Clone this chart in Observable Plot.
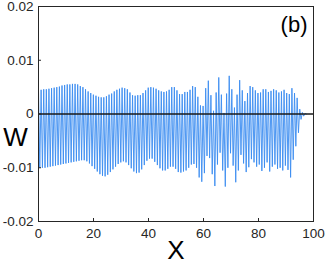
<!DOCTYPE html>
<html><head><meta charset="utf-8">
<script src="https://cdn.jsdelivr.net/npm/d3@7"></script>
<script src="https://cdn.jsdelivr.net/npm/@observablehq/plot@0.6"></script>
<style>body{margin:0;background:#fff} svg{display:block}</style>
</head><body><div id="chart"></div>
<script>
// oscillation period along X (one crest + one trough per period)
const period = 0.95;
// crest values of W (units of 1e-3), one per period
const tops = [
  4.5, 4.5, 4.6, 4.6, 4.7, 4.8, 4.9, 5.0, 5.1, 5.3,
  5.4, 5.5, 5.5, 5.6, 5.6, 5.5, 5.2, 5.0, 4.6, 4.2,
  3.9, 3.6, 3.4, 3.2, 3.1, 3.1, 3.3, 3.6, 3.8, 4.2,
  4.5, 4.7, 4.9, 4.8, 4.6, 4.0, 3.5, 3.4, 3.5, 3.5,
  3.9, 4.4, 4.9, 5.0, 4.9, 4.7, 4.4, 4.2, 4.1, 4.2,
  4.5, 5.0, 5.0, 4.4, 3.7, 3.7, 4.1, 4.1, 4.5, 5.2,
  5.0, 3.2, 1.6, 1.5, 4.8, 6.2, 3.5, 0.6, 4.0, 6.8,
  3.6, 0.2, 3.8, 7.1, 4.6, 1.2, 3.6, 6.3, 4.4, 2.4,
  3.9, 5.2, 5.0, 4.4, 3.9, 4.0, 4.6, 4.6, 4.1, 4.3,
  4.6, 4.4, 4.0, 4.2, 4.5, 3.9, 3.7, 4.8, 3.9, 3.0,
  0.9, 0.3, 0.1
];
// trough values of W (units of 1e-3), one per period
const bottoms = [
  -10.0, -10.0, -10.0, -9.9, -9.8, -9.7, -9.6, -9.5, -9.4, -9.3,
  -9.2, -9.1, -9.0, -8.9, -8.8, -8.7, -8.6, -8.6, -8.8, -9.2,
  -9.7, -10.2, -10.7, -11.2, -11.5, -11.6, -11.3, -10.8, -10.3, -9.8,
  -9.3, -9.0, -8.8, -9.0, -9.5, -10.1, -10.7, -11.0, -10.9, -10.3,
  -9.5, -8.7, -8.3, -8.3, -8.9, -9.5, -10.1, -10.5, -10.5, -10.2,
  -9.8, -9.8, -10.2, -10.8, -10.9, -10.7, -10.5, -10.0, -9.4, -9.3,
  -10.0, -11.8, -12.6, -11.0, -7.8, -8.2, -11.2, -13.4, -9.4, -7.2,
  -10.5, -13.5, -10.0, -7.3, -9.6, -12.7, -10.5, -7.6, -9.2, -10.8,
  -9.9, -8.4, -9.0, -9.8, -9.4, -10.6, -10.0, -9.0, -10.7, -9.8,
  -9.4, -10.2, -10.0, -10.5, -9.6, -10.4, -11.8, -8.5, -6.0, -3.5,
  -1.0, -0.4, 0.0
];
const unit = 1e-3;
const xTicks = [0, 20, 40, 60, 80, 100];
const yTicks = [-0.02, -0.01, 0, 0.01, 0.02];
const xLabel = "X";
const yLabel = "W";
const panelLabel = "(b)";

const points = [];
tops.forEach((t, i) => {
  points.push({x: i * period, y: t * unit});
  points.push({x: i * period + period / 2, y: bottoms[i] * unit});
});

const fmt = d => (Math.abs(d) < 1e-12 ? "0" : String(+d.toFixed(2)));

const chart = Plot.plot({
  width: 327,
  height: 267,
  marginLeft: 38,
  marginRight: 14,
  marginTop: 6,
  marginBottom: 46,
  style: {fontFamily: "Liberation Sans, Arial, sans-serif", background: "#fff"},
  x: {domain: [0, 100]},
  y: {domain: [-0.02, 0.02]},
  marks: [
    Plot.line(points, {x: "x", y: "y", stroke: "#3b8cf0", strokeWidth: 0.9}),
    Plot.ruleY([0], {stroke: "#1a1a1a", strokeWidth: 1.5}),
    Plot.frame({stroke: "#262626", strokeWidth: 1}),
    Plot.axisY({ticks: yTicks, tickFormat: fmt, tickSize: -3, tickPadding: 8, fontSize: 13.5, color: "#262626", label: null}),
    Plot.axisX({ticks: xTicks, tickFormat: fmt, tickSize: -3, tickPadding: 10, fontSize: 13.5, color: "#262626", label: null}),
    Plot.text([yLabel], {frameAnchor: "left", textAnchor: "middle", dx: -23, dy: 24, fontSize: 26, fill: "#000"}),
    Plot.text([xLabel], {frameAnchor: "bottom", dy: 37, fontSize: 26, fill: "#000"}),
    Plot.text([panelLabel], {frameAnchor: "top-right", dx: -6, dy: 10, fontSize: 22, fill: "#000", textAnchor: "end"})
  ]
});
document.getElementById("chart").appendChild(chart);
</script>
</body></html>
